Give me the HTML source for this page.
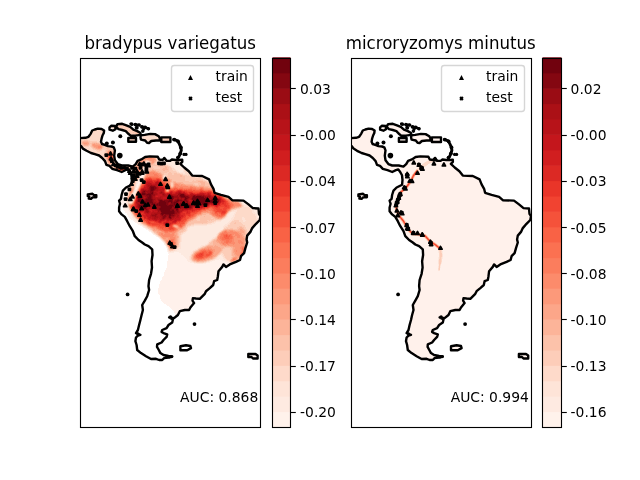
<!DOCTYPE html>
<html lang="en">
<head>
<meta charset="utf-8">
<title>Species distribution modeling</title>
<style>
html,body{margin:0;padding:0;background:#fff;}
body{width:640px;height:480px;overflow:hidden;}
svg{display:block;}
text{font-family:"DejaVu Sans","Liberation Sans",sans-serif;fill:#000;}
.t10{font-size:13.889px;}
.t12{font-size:16.667px;}
</style>
</head>
<body>
<svg width="640" height="480" viewBox="0 0 640 480">
<rect x="0" y="0" width="640" height="480" fill="#ffffff"/>
<defs>
<path id="tri" d="M0 -1.389 L-1.389 1.389 L1.389 1.389 Z" fill="#000" stroke="#000" stroke-width="1.389" stroke-linejoin="miter"/>
<path id="trm" d="M0 -1.5 L-1.6 1.45 L1.6 1.45 Z" fill="#000" stroke="#000" stroke-width="1.7" stroke-linejoin="round"/>
<rect id="crm" x="-1.9" y="-1.9" width="3.8" height="3.8" rx="1" fill="#000"/>
<path id="crs" d="M-1.389 1.389 L1.389 -1.389 M-1.389 -1.389 L1.389 1.389" fill="none" stroke="#000" stroke-width="2.083" stroke-linecap="butt"/>
<clipPath id="clip0"><rect x="80.5" y="58.5" width="180" height="369"/></clipPath>
<clipPath id="clip1"><rect x="351.5" y="58.5" width="180" height="369"/></clipPath>
</defs>
<g id="panel0">
<g clip-path="url(#clip0)">
<defs><clipPath id="land0"><path d="M79 138.2 85.4 137.8 88.5 136.8 90.8 133.6 92.2 130.5 94.8 129.5 97.9 128.6 101.6 129 104.1 130.5 103.8 133 102.5 135.5 101.6 138.6 101 141.8 102 144 104.8 144.9 107.9 146.1 111.6 146.5 113.8 147.3 114.9 150.4 114.2 155.6 114.9 160.3 117.8 164.1 121.7 165.5 128.2 165.5 132.8 166.6 135.7 164.1 137.6 160.8 141.3 159.4 145.1 157 149.8 156.4 157.8 156.7 159.2 159.5 162.6 160 164.4 157.9 166.8 160.9 170.1 160.9 171.9 159.5 175.7 160 179.4 160 182.2 159.6 182.3 161.8 180.3 163.8 184.2 167.5 188.8 171.2 192.2 175.6 202.2 176 209.1 179.4 211 184.4 213.5 188.8 214.5 192.8 221 194.8 228.5 196.9 232.2 200.2 243.5 200.6 248.5 204.4 252.9 208.1 258.5 208.5 259 213.8 260.4 216.2 259.8 220 256 223.8 252.2 228.1 250.4 231.9 247.2 235.6 246.6 239.4 247.2 242.5 245.4 248.1 244.1 253.1 241 256.2 240 260 236 261.9 229.8 264.4 226 266.9 223.5 264.4 222.2 266.9 218.5 271.2 217.9 276.2 217.2 280 214.1 281.2 213.2 285 209.8 288.1 206 291.2 204.8 293.8 199.8 298.8 196 298.5 192.9 298.1 192.5 300.6 194.1 303.1 190.4 307.5 189.1 310 184.8 310 179.8 311.2 177.9 315 174.1 318.1 169.1 317.5 172.9 319.4 172.2 322.5 168.5 325 166.6 328.1 162.2 330 161.6 331.9 163.5 333.1 167.2 334.4 166.6 336.9 163.5 340 161.6 342.5 157.2 344.4 157 346.9 158.8 350 160.4 353.1 163.5 355 168.5 356 172.2 356.5 168.5 357.5 164.1 358.1 162.2 360 159.1 360 156 358.8 151 359 146 356.2 141 353.1 137.2 350 136.6 345 135.4 341.2 136 337.5 137.9 335.6 140.4 334.8 136 333.1 137.9 330 139.1 325 140.4 320 141.6 315 142.9 310 142.2 305 144.8 300.6 147.2 296.2 149.1 290 148.5 286.2 149.1 280 151 273.8 152 267.5 151.6 261.2 152.5 255 152.2 249.4 148.5 246.2 144.8 244.5 142.2 242.5 138.5 240 134.8 236.2 132.9 231.2 129.8 226.2 127.2 221.2 124.8 216.9 121.6 214.4 119.1 211.2 119.1 207.5 120 203.8 119.1 200.6 121 198.8 121.6 195 122.9 190.6 126 187.5 131.6 184.7 131.9 180 131.4 175.3 129.7 172 127.8 169.4 125.3 170.2 121.7 172 117 170.2 112.2 168.8 109.5 165.9 106.4 164.9 105 161.1 102.2 158 99.1 155.5 94.8 154.2 91 153 86.6 150.8 82.9 148.6 81 146.1 79 145Z M116.1 126.9 117.5 124.1 122.2 123.8 126.4 125.3 130.2 126.9 133.4 129.7 137.2 131.1 140.5 133 140.5 134.9 135.3 135.6 130.6 135.6 128 133.5 125.8 131.1 122.2 130 118.5 129.1Z M109.5 127.4 111.4 125.7 115.2 126 115.5 129.2 112.8 130.7 109.5 129.7Z M128.3 138 136 138 136 141.8 128.3 141.8Z M140.9 135.3 144.7 134.9 150.3 133.9 155 134.1 158.8 136.3 159.9 138.5 159.7 140.5 156 140.5 151.3 141 149 143 147.1 142.8 145.2 140.5 141 139.6 140.5 137.5Z M161.3 137.4 170.4 137.4 170.4 142 161.3 142Z M87.8 194.4 92.5 193.8 94 195.1 96.3 195.3 96.3 197.2 92.6 197.4 91 198.9 88.8 198.6 89.3 196.7 87.8 196.2Z M180.4 346.2 186 345.2 190.4 346 191 348.1 187.2 350.2 180.4 350.2Z M248.3 354 255.5 354 257.6 355.5 257.6 358.5 253 358.5 251.5 357 248.3 357Z"/></clipPath>
<filter id="heat0" filterUnits="userSpaceOnUse" x="70" y="110" width="200" height="270" color-interpolation-filters="sRGB">
<feGaussianBlur in="SourceGraphic" stdDeviation="1.2" result="b"/>
<feTurbulence type="fractalNoise" baseFrequency="0.13" numOctaves="3" seed="7" result="n"/>
<feColorMatrix in="n" type="matrix" values="1 0 0 0 0 1 0 0 0 0 1 0 0 0 0 0 0 0 0 1" result="n2"/>
<feComposite in="b" in2="n2" operator="arithmetic" k1="0.55" k2="0.725" k3="0" k4="0" result="c"/>
<feComponentTransfer><feFuncR type="discrete" tableValues="1.000 1.000 0.996 0.996 0.996 0.992 0.988 0.988 0.988 0.988 0.988 0.984 0.984 0.976 0.961 0.945 0.914 0.863 0.820 0.769 0.718 0.671 0.604 0.518 0.443"/><feFuncG type="discrete" tableValues="1.000 0.949 0.918 0.894 0.855 0.804 0.761 0.706 0.651 0.600 0.545 0.490 0.443 0.384 0.322 0.263 0.208 0.161 0.118 0.086 0.075 0.063 0.047 0.027 0.008"/><feFuncB type="discrete" tableValues="1.000 0.922 0.882 0.847 0.792 0.725 0.667 0.600 0.537 0.478 0.420 0.365 0.318 0.271 0.227 0.192 0.161 0.141 0.122 0.110 0.098 0.086 0.078 0.067 0.055"/></feComponentTransfer>
</filter>
</defs>
<g clip-path="url(#land0)"><g filter="url(#heat0)">
<rect x="70" y="110" width="200" height="270" fill="#0f0f0f"/>
<path d="M78 128 106 126 106 146 116 147 117 166 136 168 136 176 104 170 95 157 78 150Z" fill="#2e2e2e"/>
<ellipse cx="97" cy="146" rx="6" ry="3" fill="#6b6b6b" transform="rotate(20 97 146)"/>
<ellipse cx="86" cy="143" rx="4" ry="3" fill="#616161"/>
<path d="M106 146 116 147 117 160 120 166 134 166 134 175 118 172 108 166 104 156Z" fill="#424242"/>
<ellipse cx="110.5" cy="157" rx="2.5" ry="6" fill="#949494" transform="rotate(-12 110.5 157)"/>
<ellipse cx="124" cy="169" rx="8" ry="2.5" fill="#a8a8a8" transform="rotate(10 124 169)"/>
<ellipse cx="125" cy="129" rx="17" ry="4.5" fill="#383838" transform="rotate(18 125 129)"/>
<ellipse cx="151" cy="138" rx="10" ry="4" fill="#2e2e2e"/>
<ellipse cx="166" cy="139.5" rx="5" ry="2.5" fill="#424242"/>
<ellipse cx="132" cy="140" rx="5" ry="2" fill="#383838"/>
<path d="M128.5 189.5 129 167 139 154.5 161.5 152 181.5 154.5 189 167 206.5 174.5 216.5 189.5 234 195.8 256.5 202 264 212 260.2 227 254 239.5 249 252 241.5 259.5 229 262 216.5 259.5 204 262 189 262 185.2 257 179 252 166.5 252 161.5 244.5 155.2 238.2 146.5 233.2 139 227 132.8 218.2 129 209.5 126.5 199.5Z" fill="#1a1a1a"/>
<path d="M129 189.5 135.2 177 141.5 167 150.2 163.2 161.5 163.2 171.5 167 179 173.2 189 175.8 200.2 178.2 209 182 215.2 188.2 224 193.2 234 198.2 240 202 243 205 238 209 232 211 226 213 224 218 219 220 214 222 211.5 223.2 204 224.5 194 224.5 187.8 227 185.2 232 177.8 235.8 177.8 247 174 250.8 166.5 250.8 162.8 244.5 162.8 237 154 232 145.2 227 137.8 219.5 131.5 212 127.8 202Z" fill="#424242"/>
<path d="M134 167 139 157 154 155 157.8 160.8 151.5 164.5 147.8 163.2 144 169.5 137.8 179.5 132.8 182Z" fill="#616161"/>
<path d="M146 172 153 171 160 173 166 177 172 181 180 184 190 185.5 200 186.5 210 188 216 190.5 224 196 232 200 240 203 243 206 236 208 230 210 226 215 223 219 218 220 214 217 210 213 204 213 198 216 193 219.5 188 222 183 228 177 232.5 168 234 160 231.5 151 227.5 142 223 134 216 129 208 127 199 130 191 137 184Z" fill="#6b6b6b"/>
<ellipse cx="245" cy="222" rx="12" ry="16" fill="#2e2e2e"/>
<ellipse cx="234" cy="241" rx="14" ry="21" fill="#383838" transform="rotate(10 234 241)"/>
<ellipse cx="239" cy="244" rx="7.5" ry="17" fill="#4c4c4c" transform="rotate(10 239 244)"/>
<ellipse cx="216" cy="246" rx="14" ry="7" fill="#4c4c4c" transform="rotate(-35 216 246)"/>
<ellipse cx="229" cy="238" rx="12" ry="8.5" fill="#6b6b6b"/>
<ellipse cx="228" cy="238.5" rx="7" ry="4.5" fill="#808080"/>
<ellipse cx="219.5" cy="212.5" rx="4.5" ry="6" fill="#949494"/>
<ellipse cx="239" cy="246" rx="4.5" ry="11" fill="#616161" transform="rotate(12 239 246)"/>
<path d="M155 224 179 226 181 236 179 247 170 252 160 245 152 233Z" fill="#424242"/>
<path d="M156 224 176 226 178 235 177 243 174 249 169 250 163 243 157 236 152 230Z" fill="#616161"/>
<ellipse cx="171.5" cy="244" rx="4" ry="4.5" fill="#808080"/>
<ellipse cx="206" cy="254" rx="16" ry="7.5" fill="#575757" transform="rotate(-18 206 254)"/>
<path d="M146 178 152 177 158 178 163 180.5 170 185.5 176 187.5 185 188.5 195 189.5 205 190 212 190.5 217 193 224 198 230 203 236 206 231 207.5 227 210.5 224.5 215 221.5 217.5 217.5 216 214.5 211.5 209 209.5 203 210.5 197 213.5 192.5 217 188 220 184 225 180 229 174 231 166 231.5 159 229 150 225.5 142 221 135 214 130 207 128.5 199 132 191 139 185Z" fill="#949494"/>
<path d="M149 179 155 180.5 161 183 168 190.5 174 191 180 190 187 191 194 193 203 192.5 211 192 216.5 195 222 198 227 202 223 205 216.5 206.5 209 207.5 203 208.5 196.5 211 190 213.5 184 216.5 179.5 221.5 173 225 166.5 225.5 160 223.5 151.5 220 144 218.2 137.8 212 132 209 130.5 200 134 192.5 141.5 187Z" fill="#bdbdbd"/>
<path d="M137 194 143 189 150 184 156 186 160 190 166 194 172 195 180 194 190 194 200 195 210 194.5 216 197 220.5 200.5 216 203.5 210 204.5 202 205.5 195 207.5 188 209.5 181 212 175.5 216.5 170 219.5 163 220 156 217.5 148 214 141 210 136 204Z" fill="#e6e6e6"/>
<ellipse cx="205" cy="200" rx="12" ry="4" fill="#fafafa"/>
<ellipse cx="142" cy="203" rx="6" ry="6" fill="#fafafa"/>
<ellipse cx="168" cy="207" rx="11" ry="7.5" fill="#fafafa"/>
<ellipse cx="203" cy="255" rx="10" ry="4.6" fill="#8a8a8a" transform="rotate(-18 203 255)"/>
<ellipse cx="200" cy="256" rx="5" ry="2.3" fill="#a8a8a8" transform="rotate(-18 200 256)"/>
<ellipse cx="171.5" cy="244.5" rx="2" ry="2.4" fill="#a8a8a8"/>
<ellipse cx="243" cy="252" rx="1.5" ry="5.5" fill="#949494" transform="rotate(20 243 252)"/>
<ellipse cx="234" cy="260" rx="4" ry="1.8" fill="#757575" transform="rotate(-30 234 260)"/>
<ellipse cx="164.5" cy="177.5" rx="2" ry="2.3" fill="#1a1a1a"/>
<ellipse cx="172" cy="185" rx="1.4" ry="3.5" fill="#1a1a1a"/>
<ellipse cx="167.3" cy="190.5" rx="1.8" ry="1.6" fill="#1a1a1a"/>
<path d="M150.6 162 146.4 160.1 127.9 203.1 132.1 205Z" fill="#0f0f0f"/>
<path d="M122 205 123 210 126.5 214 129.5 218.5 134 221.5 140 224.5 146 228 152.2 232 157 235 161.6 238.4 165 242.5 168.1 247 168.6 253.5 166.5 265.8 163.2 276.2 158.9 283.2 158 292 160.6 300.8 167.6 306 172 309 175 316 180 320 200 325 200 370 120 370 110 300 140 255 125 225 112 205Z" fill="#050505"/>
<ellipse cx="176" cy="226.5" rx="4" ry="1.1" fill="#1a1a1a" transform="rotate(25 176 226.5)"/>
<ellipse cx="194" cy="173" rx="11" ry="5.5" fill="#2e2e2e" transform="rotate(18 194 173)"/>
</g></g>
<path d="M79 138.2 85.4 137.8 88.5 136.8 90.8 133.6 92.2 130.5 94.8 129.5 97.9 128.6 101.6 129 104.1 130.5 103.8 133 102.5 135.5 101.6 138.6 101 141.8 102 144 104.8 144.9 107.9 146.1 111.6 146.5 113.8 147.3 114.9 150.4 114.2 155.6 114.9 160.3 117.8 164.1 121.7 165.5 128.2 165.5 132.8 166.6 135.7 164.1 137.6 160.8 141.3 159.4 145.1 157 149.8 156.4 157.8 156.7 159.2 159.5 162.6 160 164.4 157.9 166.8 160.9 170.1 160.9 171.9 159.5 175.7 160 179.4 160 182.2 159.6 182.3 161.8 180.3 163.8 184.2 167.5 188.8 171.2 192.2 175.6 202.2 176 209.1 179.4 211 184.4 213.5 188.8 214.5 192.8 221 194.8 228.5 196.9 232.2 200.2 243.5 200.6 248.5 204.4 252.9 208.1 258.5 208.5 259 213.8 260.4 216.2 259.8 220 256 223.8 252.2 228.1 250.4 231.9 247.2 235.6 246.6 239.4 247.2 242.5 245.4 248.1 244.1 253.1 241 256.2 240 260 236 261.9 229.8 264.4 226 266.9 223.5 264.4 222.2 266.9 218.5 271.2 217.9 276.2 217.2 280 214.1 281.2 213.2 285 209.8 288.1 206 291.2 204.8 293.8 199.8 298.8 196 298.5 192.9 298.1 192.5 300.6 194.1 303.1 190.4 307.5 189.1 310 184.8 310 179.8 311.2 177.9 315 174.1 318.1 169.1 317.5 172.9 319.4 172.2 322.5 168.5 325 166.6 328.1 162.2 330 161.6 331.9 163.5 333.1 167.2 334.4 166.6 336.9 163.5 340 161.6 342.5 157.2 344.4 157 346.9 158.8 350 160.4 353.1 163.5 355 168.5 356 172.2 356.5 168.5 357.5 164.1 358.1 162.2 360 159.1 360 156 358.8 151 359 146 356.2 141 353.1 137.2 350 136.6 345 135.4 341.2 136 337.5 137.9 335.6 140.4 334.8 136 333.1 137.9 330 139.1 325 140.4 320 141.6 315 142.9 310 142.2 305 144.8 300.6 147.2 296.2 149.1 290 148.5 286.2 149.1 280 151 273.8 152 267.5 151.6 261.2 152.5 255 152.2 249.4 148.5 246.2 144.8 244.5 142.2 242.5 138.5 240 134.8 236.2 132.9 231.2 129.8 226.2 127.2 221.2 124.8 216.9 121.6 214.4 119.1 211.2 119.1 207.5 120 203.8 119.1 200.6 121 198.8 121.6 195 122.9 190.6 126 187.5 131.6 184.7 131.9 180 131.4 175.3 129.7 172 127.8 169.4 125.3 170.2 121.7 172 117 170.2 112.2 168.8 109.5 165.9 106.4 164.9 105 161.1 102.2 158 99.1 155.5 94.8 154.2 91 153 86.6 150.8 82.9 148.6 81 146.1 79 145Z M116.1 126.9 117.5 124.1 122.2 123.8 126.4 125.3 130.2 126.9 133.4 129.7 137.2 131.1 140.5 133 140.5 134.9 135.3 135.6 130.6 135.6 128 133.5 125.8 131.1 122.2 130 118.5 129.1Z M109.5 127.4 111.4 125.7 115.2 126 115.5 129.2 112.8 130.7 109.5 129.7Z M128.3 138 136 138 136 141.8 128.3 141.8Z M140.9 135.3 144.7 134.9 150.3 133.9 155 134.1 158.8 136.3 159.9 138.5 159.7 140.5 156 140.5 151.3 141 149 143 147.1 142.8 145.2 140.5 141 139.6 140.5 137.5Z M161.3 137.4 170.4 137.4 170.4 142 161.3 142Z M87.8 194.4 92.5 193.8 94 195.1 96.3 195.3 96.3 197.2 92.6 197.4 91 198.9 88.8 198.6 89.3 196.7 87.8 196.2Z M180.4 346.2 186 345.2 190.4 346 191 348.1 187.2 350.2 180.4 350.2Z M248.3 354 255.5 354 257.6 355.5 257.6 358.5 253 358.5 251.5 357 248.3 357Z" fill="none" stroke="#000" stroke-width="2.4" stroke-linejoin="round"/>
<circle cx="127.6" cy="294.4" r="1.9" fill="#000"/>
<circle cx="194.5" cy="324.1" r="1.9" fill="#000"/>
<circle cx="119.8" cy="155.6" r="2.8" fill="#000"/>
<circle cx="112.9" cy="142.4" r="2" fill="#000"/>
<circle cx="106.8" cy="143.5" r="2" fill="#000"/>
<circle cx="120.3" cy="136.3" r="2" fill="#000"/>
<circle cx="184" cy="154.4" r="1.6" fill="#000"/>
<circle cx="186" cy="154.4" r="1.6" fill="#000"/>
<circle cx="170.5" cy="316.9" r="1.7" fill="#000"/>
<circle cx="137.9" cy="333.8" r="1.6" fill="#000"/>
<circle cx="169.5" cy="356.8" r="1.7" fill="#000"/>
<circle cx="171.5" cy="356.6" r="1.6" fill="#000"/>
<circle cx="174.2" cy="139.6" r="1.9" fill="#000"/>
<circle cx="178" cy="141.3" r="1.9" fill="#000"/>
<circle cx="180.9" cy="147.5" r="1.9" fill="#000"/>
<circle cx="180.3" cy="153.6" r="1.9" fill="#000"/>
<circle cx="178" cy="157.5" r="1.8" fill="#000"/>
<circle cx="131.6" cy="124.1" r="1.8" fill="#000"/>
<circle cx="135.3" cy="124.6" r="1.8" fill="#000"/>
<circle cx="139.1" cy="125" r="1.8" fill="#000"/>
<circle cx="141.9" cy="126.9" r="1.8" fill="#000"/>
<circle cx="145.2" cy="127.4" r="1.8" fill="#000"/>
<circle cx="148.4" cy="128.8" r="1.8" fill="#000"/>
<circle cx="142.8" cy="131.1" r="1.8" fill="#000"/>
<circle cx="136.7" cy="127.8" r="2" fill="#000"/>
<circle cx="143.6" cy="129" r="1.6" fill="#000"/>
<path d="M135.3 124.6 139.1 125" fill="none" stroke="#000" stroke-width="2.6" stroke-linecap="round" stroke-linejoin="round"/>
<path d="M141.9 126.9 145.2 127.4 148.4 128.8" fill="none" stroke="#000" stroke-width="2.6" stroke-linecap="round" stroke-linejoin="round"/>
<path d="M130.5 123.8 132.5 124.6" fill="none" stroke="#000" stroke-width="2.4" stroke-linecap="round" stroke-linejoin="round"/>
<path d="M173.8 139.4 177.6 140.8 179.4 144.1 180.8 147.3 181.3 150.2 180.3 153.4 178.9 156.7 177.6 157.7" fill="none" stroke="#000" stroke-width="2.9" stroke-linecap="round" stroke-linejoin="round"/>
<use href="#trm" x="139.4" y="214.7"/><use href="#trm" x="140.6" y="219.7"/><use href="#trm" x="133.1" y="209.1"/><use href="#trm" x="169.8" y="242.6"/><use href="#trm" x="172.4" y="246.1"/><use href="#trm" x="110.5" y="153.4"/><use href="#trm" x="111" y="158.4"/><use href="#trm" x="113.5" y="163.9"/><use href="#trm" x="118.1" y="166.5"/><use href="#trm" x="124.5" y="167.3"/><use href="#trm" x="129.5" y="170.7"/><use href="#trm" x="133.8" y="170.7"/><use href="#trm" x="137.1" y="171.5"/><use href="#trm" x="139.7" y="163.9"/><use href="#trm" x="143.9" y="163.5"/><use href="#trm" x="148.5" y="165.2"/><use href="#trm" x="146.8" y="171.5"/><use href="#trm" x="142.2" y="171.5"/><use href="#trm" x="137.1" y="175.7"/><use href="#trm" x="132.9" y="177.4"/><use href="#trm" x="160.5" y="183.8"/><use href="#trm" x="138.3" y="193.5"/><use href="#trm" x="140" y="195.6"/><use href="#trm" x="132.4" y="196.5"/><use href="#trm" x="130.3" y="199"/><use href="#trm" x="142.5" y="201.5"/><use href="#trm" x="125.2" y="205.3"/><use href="#trm" x="145.4" y="204.9"/><use href="#trm" x="148" y="204.5"/><use href="#trm" x="154.3" y="206.6"/><use href="#trm" x="133.6" y="208.7"/><use href="#trm" x="141.6" y="208.3"/><use href="#trm" x="130.3" y="172.8"/><use href="#trm" x="135.3" y="178.7"/><use href="#trm" x="142.1" y="172.8"/><use href="#trm" x="131.5" y="183.8"/><use href="#trm" x="165.6" y="179"/><use href="#trm" x="167.3" y="185.5"/><use href="#trm" x="167.8" y="186.9"/><use href="#trm" x="169.4" y="196.7"/><use href="#trm" x="183.8" y="203.4"/><use href="#trm" x="177.4" y="205.5"/><use href="#trm" x="186.7" y="205.5"/><use href="#trm" x="193.5" y="203"/><use href="#trm" x="177.3" y="205.7"/><use href="#trm" x="183.4" y="203.6"/><use href="#trm" x="186.5" y="205.7"/><use href="#trm" x="193.6" y="202.8"/><use href="#trm" x="207.6" y="199.8"/><use href="#trm" x="215.2" y="197.7"/><use href="#trm" x="215.2" y="200.8"/><use href="#trm" x="197.5" y="200.8"/><use href="#trm" x="199" y="203.3"/><use href="#trm" x="197.5" y="205.8"/><use href="#trm" x="196.5" y="203.3"/>
<use href="#crm" x="136.2" y="211.2"/><use href="#crm" x="167.3" y="225.2"/><use href="#crm" x="171" y="244"/><use href="#crm" x="174.6" y="247.2"/><use href="#crm" x="106.3" y="155.2"/><use href="#crm" x="111.8" y="161.1"/><use href="#crm" x="115.6" y="165.3"/><use href="#crm" x="121.1" y="167.8"/><use href="#crm" x="127" y="168.7"/><use href="#crm" x="132.1" y="167.8"/><use href="#crm" x="135.4" y="168.7"/><use href="#crm" x="142.2" y="164.5"/><use href="#crm" x="146" y="165.3"/><use href="#crm" x="146.4" y="168.7"/><use href="#crm" x="140.5" y="167.8"/><use href="#crm" x="139.7" y="173.8"/><use href="#crm" x="133.8" y="175.4"/><use href="#crm" x="141.6" y="180.1"/><use href="#crm" x="143.8" y="182.2"/><use href="#crm" x="126" y="194.1"/><use href="#crm" x="125.6" y="199.1"/><use href="#crm" x="129.4" y="189.4"/><use href="#crm" x="133.6" y="175.1"/><use href="#crm" x="137.8" y="173.4"/><use href="#crm" x="146.3" y="171.3"/><use href="#crm" x="132.8" y="181"/><use href="#crm" x="205.4" y="205.2"/><use href="#crm" x="215.2" y="203"/><use href="#crm" x="159" y="163.3"/><use href="#crm" x="161.5" y="163.6"/><use href="#crm" x="164" y="163.3"/><use href="#crm" x="177.2" y="163.1"/><use href="#crm" x="148.5" y="164.4"/>
</g>
<rect x="80.5" y="58.5" width="180" height="369" fill="none" stroke="#000" stroke-width="1.111" stroke-linejoin="miter"/>
<text class="t10" x="258.28" y="402.49" text-anchor="end">AUC: 0.868</text>
<text class="t12" transform="translate(170.18 48.87) scale(1 1.11)" text-anchor="middle">bradypus variegatus</text>
<rect x="171.5" y="65.5" width="82" height="46" rx="2.778" ry="2.778" fill="#fff" fill-opacity="0.8" stroke="#ccc" stroke-opacity="0.8" stroke-width="1.389"/>
<use href="#tri" x="190.5" y="78"/>
<use href="#crs" x="190.5" y="98.5"/>
<text class="t10" x="215.54" y="81">train</text>
<text class="t10" x="215.54" y="102">test</text>
<rect x="272.5" y="411.5" width="18" height="16" fill="#fff2eb"/>
<rect x="272.5" y="396.1" width="18" height="16" fill="#feeae1"/>
<rect x="272.5" y="380.7" width="18" height="16" fill="#fee4d8"/>
<rect x="272.5" y="365.3" width="18" height="16" fill="#fedaca"/>
<rect x="272.5" y="349.9" width="18" height="16" fill="#fdcdb9"/>
<rect x="272.5" y="334.5" width="18" height="16" fill="#fcc2aa"/>
<rect x="272.5" y="319.1" width="18" height="16" fill="#fcb499"/>
<rect x="272.5" y="303.7" width="18" height="16" fill="#fca689"/>
<rect x="272.5" y="288.3" width="18" height="16" fill="#fc997a"/>
<rect x="272.5" y="272.9" width="18" height="16" fill="#fc8b6b"/>
<rect x="272.5" y="257.5" width="18" height="16" fill="#fb7d5d"/>
<rect x="272.5" y="242.1" width="18" height="16" fill="#fb7151"/>
<rect x="272.5" y="226.7" width="18" height="16" fill="#f96245"/>
<rect x="272.5" y="211.3" width="18" height="16" fill="#f5523a"/>
<rect x="272.5" y="195.9" width="18" height="16" fill="#f14331"/>
<rect x="272.5" y="180.5" width="18" height="16" fill="#e93529"/>
<rect x="272.5" y="165.1" width="18" height="16" fill="#dc2924"/>
<rect x="272.5" y="149.7" width="18" height="16" fill="#d11e1f"/>
<rect x="272.5" y="134.3" width="18" height="16" fill="#c4161c"/>
<rect x="272.5" y="118.9" width="18" height="16" fill="#b71319"/>
<rect x="272.5" y="103.5" width="18" height="16" fill="#ab1016"/>
<rect x="272.5" y="88.1" width="18" height="16" fill="#9a0c14"/>
<rect x="272.5" y="72.7" width="18" height="16" fill="#840711"/>
<rect x="272.5" y="57.3" width="18" height="16" fill="#71020e"/>
<rect x="272.5" y="58.5" width="18" height="369" fill="none" stroke="#000" stroke-width="1.111"/>
<path d="M290.5 412.5 h5.3" stroke="#000" stroke-width="1.111" fill="none"/><text class="t10" x="300.06" y="417">-0.20</text>
<path d="M290.5 366.5 h5.3" stroke="#000" stroke-width="1.111" fill="none"/><text class="t10" x="300.06" y="371">-0.17</text>
<path d="M290.5 319.5 h5.3" stroke="#000" stroke-width="1.111" fill="none"/><text class="t10" x="300.06" y="325">-0.14</text>
<path d="M290.5 273.5 h5.3" stroke="#000" stroke-width="1.111" fill="none"/><text class="t10" x="300.06" y="279">-0.10</text>
<path d="M290.5 227.5 h5.3" stroke="#000" stroke-width="1.111" fill="none"/><text class="t10" x="300.06" y="233">-0.07</text>
<path d="M290.5 181.5 h5.3" stroke="#000" stroke-width="1.111" fill="none"/><text class="t10" x="300.06" y="186">-0.04</text>
<path d="M290.5 135.5 h5.3" stroke="#000" stroke-width="1.111" fill="none"/><text class="t10" x="300.06" y="140">-0.00</text>
<path d="M290.5 88.5 h5.3" stroke="#000" stroke-width="1.111" fill="none"/><text class="t10" x="300.06" y="94">0.03</text>
</g>
<g id="panel1">
<g clip-path="url(#clip1)">
<defs><clipPath id="land1"><path d="M349.6 138.2 356 137.8 359.1 136.8 361.3 133.6 362.8 130.5 365.3 129.5 368.5 128.6 372.1 129 374.6 130.5 374.3 133 373.1 135.5 372.1 138.6 371.6 141.8 372.6 144 375.3 144.9 378.5 146.1 382.1 146.5 384.3 147.3 385.5 150.4 384.8 155.6 385.5 160.3 388.4 164.1 392.2 165.5 398.8 165.5 403.4 166.6 406.2 164.1 408.1 160.8 411.9 159.4 415.6 157 420.3 156.4 428.4 156.7 429.8 159.5 433.1 160 435 157.9 437.3 160.9 440.6 160.9 442.5 159.5 446.2 160 450 160 452.8 159.6 452.9 161.8 450.9 163.8 454.7 167.5 459.4 171.2 462.8 175.6 472.8 176 479.6 179.4 481.6 184.4 484.1 188.8 485.1 192.8 491.6 194.8 499.1 196.9 502.8 200.2 514 200.6 519 204.4 523.5 208.1 529 208.5 529.5 213.8 531 216.2 530.3 220 526.5 223.8 522.8 228.1 521 231.9 517.8 235.6 517.1 239.4 517.8 242.5 516 248.1 514.6 253.1 511.6 256.2 510.6 260 506.6 261.9 500.3 264.4 496.6 266.9 494.1 264.4 492.8 266.9 489.1 271.2 488.5 276.2 487.8 280 484.6 281.2 483.8 285 480.3 288.1 476.6 291.2 475.3 293.8 470.3 298.8 466.6 298.5 463.5 298.1 463.1 300.6 464.6 303.1 461 307.5 459.6 310 455.3 310 450.3 311.2 448.5 315 444.6 318.1 439.6 317.5 443.5 319.4 442.8 322.5 439.1 325 437.1 328.1 432.8 330 432.1 331.9 434.1 333.1 437.8 334.4 437.1 336.9 434.1 340 432.1 342.5 427.8 344.4 427.6 346.9 429.3 350 431 353.1 434.1 355 439.1 356 442.8 356.5 439.1 357.5 434.6 358.1 432.8 360 429.6 360 426.6 358.8 421.6 359 416.6 356.2 411.6 353.1 407.8 350 407.1 345 406 341.2 406.6 337.5 408.5 335.6 411 334.8 406.6 333.1 408.5 330 409.6 325 411 320 412.1 315 413.5 310 412.8 305 415.3 300.6 417.8 296.2 419.6 290 419.1 286.2 419.6 280 421.6 273.8 422.6 267.5 422.1 261.2 423.1 255 422.8 249.4 419.1 246.2 415.3 244.5 412.8 242.5 409.1 240 405.3 236.2 403.5 231.2 400.3 226.2 397.8 221.2 395.3 216.9 392.1 214.4 389.6 211.2 389.6 207.5 390.6 203.8 389.6 200.6 391.6 198.8 392.1 195 393.5 190.6 396.6 187.5 402.1 184.7 402.5 180 402 175.3 400.2 172 398.3 169.4 395.9 170.2 392.2 172 387.5 170.2 382.8 168.8 380 165.9 377 164.9 375.6 161.1 372.8 158 369.6 155.5 365.3 154.2 361.6 153 357.1 150.8 353.5 148.6 351.6 146.1 349.6 145Z M386.6 126.9 388.1 124.1 392.8 123.8 397 125.3 400.8 126.9 404 129.7 407.8 131.1 411.1 133 411.1 134.9 405.9 135.6 401.1 135.6 398.6 133.5 396.4 131.1 392.8 130 389 129.1Z M380.1 127.4 382 125.7 385.8 126 386 129.2 383.4 130.7 380.1 129.7Z M398.9 138 406.6 138 406.6 141.8 398.9 141.8Z M411.5 135.3 415.2 134.9 420.9 133.9 425.6 134.1 429.3 136.3 430.5 138.5 430.2 140.5 426.6 140.5 421.9 141 419.6 143 417.6 142.8 415.8 140.5 411.6 139.6 411.1 137.5Z M431.9 137.4 441 137.4 441 142 431.9 142Z M358.4 194.4 363.1 193.8 364.6 195.1 366.9 195.3 366.9 197.2 363.1 197.4 361.6 198.9 359.4 198.6 359.9 196.7 358.4 196.2Z M451 346.2 456.6 345.2 461 346 461.6 348.1 457.8 350.2 451 350.2Z M518.9 354 526 354 528.2 355.5 528.2 358.5 523.5 358.5 522 357 518.9 357Z"/></clipPath>
<filter id="heat1" filterUnits="userSpaceOnUse" x="340.6" y="110" width="200" height="270" color-interpolation-filters="sRGB">
<feGaussianBlur in="SourceGraphic" stdDeviation="0.7" result="b"/>
<feComponentTransfer><feFuncR type="discrete" tableValues="1.000 1.000 0.996 0.996 0.996 0.992 0.988 0.988 0.988 0.988 0.988 0.984 0.984 0.976 0.961 0.945 0.914 0.863 0.820 0.769 0.718 0.671 0.604 0.518 0.443"/><feFuncG type="discrete" tableValues="1.000 0.949 0.918 0.894 0.855 0.804 0.761 0.706 0.651 0.600 0.545 0.490 0.443 0.384 0.322 0.263 0.208 0.161 0.118 0.086 0.075 0.063 0.047 0.027 0.008"/><feFuncB type="discrete" tableValues="1.000 0.922 0.882 0.847 0.792 0.725 0.667 0.600 0.537 0.478 0.420 0.365 0.318 0.271 0.227 0.192 0.161 0.141 0.122 0.110 0.098 0.086 0.078 0.067 0.055"/></feComponentTransfer>
</filter>
</defs>
<g clip-path="url(#land1)"><g filter="url(#heat1)">
<rect x="340.6" y="110" width="200" height="270" fill="#0f0f0f"/>
<path d="M434 159.5 427 163 421 167.5 417 171 417 171 413.5 175.5 410.9 181 406.2 187.5 401 192 398.8 198 396.6 204 396.3 208.8 398.8 215.3 403.4 221 408.1 229.4 412.8 234 418.4 234.4 425 235.8 429.7 241 435.3 244.7 440 248.4 440.9 255 440 262.5" fill="none" stroke="#2e2e2e" stroke-width="3.6" stroke-linecap="round" stroke-linejoin="round"/>
<path d="M417 171 413.5 175.5 410.9 181 406.2 187.5 401 192 398.8 198 396.6 204 396.3 208.8 398.8 215.3 403.4 221 408.1 229.4 412.8 234 418.4 234.4 425 235.8 429.7 241 435.3 244.7 440 248.4" fill="none" stroke="#575757" stroke-width="2.6" stroke-linecap="round" stroke-linejoin="round"/>
<path d="M440 248.4 440.9 255 440 262.5 439 270" fill="none" stroke="#383838" stroke-width="1.8" stroke-linecap="round" stroke-linejoin="round"/>
<path d="M417 171 413.5 175.5 410.9 181 406.2 187.5 401 192 398.8 198 396.6 204 396.3 208.8 398.8 215.3 403.4 221 408.1 229.4 412.8 234 418.4 234.4 425 235.8 429.7 241 435.3 244.7 440 248.4" fill="none" stroke="#9e9e9e" stroke-width="1.3" stroke-linecap="round" stroke-linejoin="round"/>
</g></g>
<path d="M349.6 138.2 356 137.8 359.1 136.8 361.3 133.6 362.8 130.5 365.3 129.5 368.5 128.6 372.1 129 374.6 130.5 374.3 133 373.1 135.5 372.1 138.6 371.6 141.8 372.6 144 375.3 144.9 378.5 146.1 382.1 146.5 384.3 147.3 385.5 150.4 384.8 155.6 385.5 160.3 388.4 164.1 392.2 165.5 398.8 165.5 403.4 166.6 406.2 164.1 408.1 160.8 411.9 159.4 415.6 157 420.3 156.4 428.4 156.7 429.8 159.5 433.1 160 435 157.9 437.3 160.9 440.6 160.9 442.5 159.5 446.2 160 450 160 452.8 159.6 452.9 161.8 450.9 163.8 454.7 167.5 459.4 171.2 462.8 175.6 472.8 176 479.6 179.4 481.6 184.4 484.1 188.8 485.1 192.8 491.6 194.8 499.1 196.9 502.8 200.2 514 200.6 519 204.4 523.5 208.1 529 208.5 529.5 213.8 531 216.2 530.3 220 526.5 223.8 522.8 228.1 521 231.9 517.8 235.6 517.1 239.4 517.8 242.5 516 248.1 514.6 253.1 511.6 256.2 510.6 260 506.6 261.9 500.3 264.4 496.6 266.9 494.1 264.4 492.8 266.9 489.1 271.2 488.5 276.2 487.8 280 484.6 281.2 483.8 285 480.3 288.1 476.6 291.2 475.3 293.8 470.3 298.8 466.6 298.5 463.5 298.1 463.1 300.6 464.6 303.1 461 307.5 459.6 310 455.3 310 450.3 311.2 448.5 315 444.6 318.1 439.6 317.5 443.5 319.4 442.8 322.5 439.1 325 437.1 328.1 432.8 330 432.1 331.9 434.1 333.1 437.8 334.4 437.1 336.9 434.1 340 432.1 342.5 427.8 344.4 427.6 346.9 429.3 350 431 353.1 434.1 355 439.1 356 442.8 356.5 439.1 357.5 434.6 358.1 432.8 360 429.6 360 426.6 358.8 421.6 359 416.6 356.2 411.6 353.1 407.8 350 407.1 345 406 341.2 406.6 337.5 408.5 335.6 411 334.8 406.6 333.1 408.5 330 409.6 325 411 320 412.1 315 413.5 310 412.8 305 415.3 300.6 417.8 296.2 419.6 290 419.1 286.2 419.6 280 421.6 273.8 422.6 267.5 422.1 261.2 423.1 255 422.8 249.4 419.1 246.2 415.3 244.5 412.8 242.5 409.1 240 405.3 236.2 403.5 231.2 400.3 226.2 397.8 221.2 395.3 216.9 392.1 214.4 389.6 211.2 389.6 207.5 390.6 203.8 389.6 200.6 391.6 198.8 392.1 195 393.5 190.6 396.6 187.5 402.1 184.7 402.5 180 402 175.3 400.2 172 398.3 169.4 395.9 170.2 392.2 172 387.5 170.2 382.8 168.8 380 165.9 377 164.9 375.6 161.1 372.8 158 369.6 155.5 365.3 154.2 361.6 153 357.1 150.8 353.5 148.6 351.6 146.1 349.6 145Z M386.6 126.9 388.1 124.1 392.8 123.8 397 125.3 400.8 126.9 404 129.7 407.8 131.1 411.1 133 411.1 134.9 405.9 135.6 401.1 135.6 398.6 133.5 396.4 131.1 392.8 130 389 129.1Z M380.1 127.4 382 125.7 385.8 126 386 129.2 383.4 130.7 380.1 129.7Z M398.9 138 406.6 138 406.6 141.8 398.9 141.8Z M411.5 135.3 415.2 134.9 420.9 133.9 425.6 134.1 429.3 136.3 430.5 138.5 430.2 140.5 426.6 140.5 421.9 141 419.6 143 417.6 142.8 415.8 140.5 411.6 139.6 411.1 137.5Z M431.9 137.4 441 137.4 441 142 431.9 142Z M358.4 194.4 363.1 193.8 364.6 195.1 366.9 195.3 366.9 197.2 363.1 197.4 361.6 198.9 359.4 198.6 359.9 196.7 358.4 196.2Z M451 346.2 456.6 345.2 461 346 461.6 348.1 457.8 350.2 451 350.2Z M518.9 354 526 354 528.2 355.5 528.2 358.5 523.5 358.5 522 357 518.9 357Z" fill="none" stroke="#000" stroke-width="2.4" stroke-linejoin="round"/>
<circle cx="398.1" cy="294.4" r="1.9" fill="#000"/>
<circle cx="465.1" cy="324.1" r="1.9" fill="#000"/>
<circle cx="390.4" cy="155.6" r="2.8" fill="#000"/>
<circle cx="383.5" cy="142.4" r="2" fill="#000"/>
<circle cx="377.4" cy="143.5" r="2" fill="#000"/>
<circle cx="390.9" cy="136.3" r="2" fill="#000"/>
<circle cx="454.6" cy="154.4" r="1.6" fill="#000"/>
<circle cx="456.6" cy="154.4" r="1.6" fill="#000"/>
<circle cx="441.1" cy="316.9" r="1.7" fill="#000"/>
<circle cx="408.5" cy="333.8" r="1.6" fill="#000"/>
<circle cx="440.1" cy="356.8" r="1.7" fill="#000"/>
<circle cx="442.1" cy="356.6" r="1.6" fill="#000"/>
<circle cx="444.8" cy="139.6" r="1.9" fill="#000"/>
<circle cx="448.6" cy="141.3" r="1.9" fill="#000"/>
<circle cx="451.5" cy="147.5" r="1.9" fill="#000"/>
<circle cx="450.9" cy="153.6" r="1.9" fill="#000"/>
<circle cx="448.6" cy="157.5" r="1.8" fill="#000"/>
<circle cx="402.1" cy="124.1" r="1.8" fill="#000"/>
<circle cx="405.9" cy="124.6" r="1.8" fill="#000"/>
<circle cx="409.6" cy="125" r="1.8" fill="#000"/>
<circle cx="412.5" cy="126.9" r="1.8" fill="#000"/>
<circle cx="415.8" cy="127.4" r="1.8" fill="#000"/>
<circle cx="419" cy="128.8" r="1.8" fill="#000"/>
<circle cx="413.4" cy="131.1" r="1.8" fill="#000"/>
<circle cx="407.2" cy="127.8" r="2" fill="#000"/>
<circle cx="414.1" cy="129" r="1.6" fill="#000"/>
<path d="M405.9 124.6 409.6 125" fill="none" stroke="#000" stroke-width="2.6" stroke-linecap="round" stroke-linejoin="round"/>
<path d="M412.5 126.9 415.8 127.4 419 128.8" fill="none" stroke="#000" stroke-width="2.6" stroke-linecap="round" stroke-linejoin="round"/>
<path d="M401.1 123.8 403.1 124.6" fill="none" stroke="#000" stroke-width="2.4" stroke-linecap="round" stroke-linejoin="round"/>
<path d="M444.4 139.4 448.1 140.8 450 144.1 451.4 147.3 451.9 150.2 450.9 153.4 449.5 156.7 448.1 157.7" fill="none" stroke="#000" stroke-width="2.9" stroke-linecap="round" stroke-linejoin="round"/>
<use href="#trm" x="413.8" y="162.5"/><use href="#trm" x="418.9" y="164.8"/><use href="#trm" x="421.7" y="167.6"/><use href="#trm" x="422.4" y="168.7"/><use href="#trm" x="417.5" y="172.8"/><use href="#trm" x="407.2" y="173.8"/><use href="#trm" x="407.4" y="176.3"/><use href="#trm" x="409.8" y="180.8"/><use href="#trm" x="412" y="181"/><use href="#trm" x="404.2" y="187.3"/><use href="#trm" x="405.4" y="188.5"/><use href="#trm" x="400.2" y="193.9"/><use href="#trm" x="433.9" y="163.4"/><use href="#trm" x="435.3" y="159.2"/><use href="#trm" x="443.9" y="164.5"/><use href="#trm" x="400.2" y="194.1"/><use href="#trm" x="398.8" y="197.8"/><use href="#trm" x="397.3" y="201.6"/><use href="#trm" x="395.9" y="205.3"/><use href="#trm" x="396.9" y="210.5"/><use href="#trm" x="401" y="212.3"/><use href="#trm" x="402.2" y="213.3"/><use href="#trm" x="397.8" y="215.1"/><use href="#trm" x="406.7" y="225"/><use href="#trm" x="408.1" y="228.7"/><use href="#trm" x="413.3" y="233"/><use href="#trm" x="417.5" y="233"/><use href="#trm" x="422.2" y="234.3"/><use href="#trm" x="407.2" y="228.1"/><use href="#trm" x="413.3" y="232.8"/><use href="#trm" x="422.4" y="234.7"/><use href="#trm" x="430.4" y="241.7"/><use href="#trm" x="431.1" y="244.1"/><use href="#trm" x="440.5" y="247.8"/>
<use href="#crm" x="421.9" y="168"/><use href="#crm" x="407.2" y="175.2"/><use href="#crm" x="411" y="180.8"/><use href="#crm" x="404.9" y="187.7"/><use href="#crm" x="400.3" y="193.9"/><use href="#crm" x="399" y="197.2"/><use href="#crm" x="397.5" y="201"/><use href="#crm" x="396.2" y="205.2"/><use href="#crm" x="401.7" y="212.7"/><use href="#crm" x="406.8" y="225"/><use href="#crm" x="408.2" y="228.7"/><use href="#crm" x="430.8" y="242.7"/><use href="#crm" x="418.9" y="164.7"/><use href="#crm" x="413.4" y="233"/><use href="#crm" x="399.5" y="195.5"/><use href="#crm" x="398" y="199.4"/><use href="#crm" x="396.6" y="203"/><use href="#crm" x="421.2" y="167.9"/><use href="#crm" x="407.3" y="174.8"/>
</g>
<rect x="351.5" y="58.5" width="180" height="369" fill="none" stroke="#000" stroke-width="1.111" stroke-linejoin="miter"/>
<text class="t10" x="528.82" y="402.49" text-anchor="end">AUC: 0.994</text>
<text class="t12" transform="translate(440.73 48.87) scale(1 1.11)" text-anchor="middle">microryzomys minutus</text>
<rect x="441.5" y="65.5" width="83" height="46" rx="2.778" ry="2.778" fill="#fff" fill-opacity="0.8" stroke="#ccc" stroke-opacity="0.8" stroke-width="1.389"/>
<use href="#tri" x="461.5" y="78"/>
<use href="#crs" x="461.5" y="98.5"/>
<text class="t10" x="486.08" y="81">train</text>
<text class="t10" x="486.08" y="102">test</text>
<rect x="542.5" y="411.5" width="19" height="16" fill="#fff2eb"/>
<rect x="542.5" y="396.1" width="19" height="16" fill="#feeae1"/>
<rect x="542.5" y="380.7" width="19" height="16" fill="#fee4d8"/>
<rect x="542.5" y="365.3" width="19" height="16" fill="#fedaca"/>
<rect x="542.5" y="349.9" width="19" height="16" fill="#fdcdb9"/>
<rect x="542.5" y="334.5" width="19" height="16" fill="#fcc2aa"/>
<rect x="542.5" y="319.1" width="19" height="16" fill="#fcb499"/>
<rect x="542.5" y="303.7" width="19" height="16" fill="#fca689"/>
<rect x="542.5" y="288.3" width="19" height="16" fill="#fc997a"/>
<rect x="542.5" y="272.9" width="19" height="16" fill="#fc8b6b"/>
<rect x="542.5" y="257.5" width="19" height="16" fill="#fb7d5d"/>
<rect x="542.5" y="242.1" width="19" height="16" fill="#fb7151"/>
<rect x="542.5" y="226.7" width="19" height="16" fill="#f96245"/>
<rect x="542.5" y="211.3" width="19" height="16" fill="#f5523a"/>
<rect x="542.5" y="195.9" width="19" height="16" fill="#f14331"/>
<rect x="542.5" y="180.5" width="19" height="16" fill="#e93529"/>
<rect x="542.5" y="165.1" width="19" height="16" fill="#dc2924"/>
<rect x="542.5" y="149.7" width="19" height="16" fill="#d11e1f"/>
<rect x="542.5" y="134.3" width="19" height="16" fill="#c4161c"/>
<rect x="542.5" y="118.9" width="19" height="16" fill="#b71319"/>
<rect x="542.5" y="103.5" width="19" height="16" fill="#ab1016"/>
<rect x="542.5" y="88.1" width="19" height="16" fill="#9a0c14"/>
<rect x="542.5" y="72.7" width="19" height="16" fill="#840711"/>
<rect x="542.5" y="57.3" width="19" height="16" fill="#71020e"/>
<rect x="542.5" y="58.5" width="19" height="369" fill="none" stroke="#000" stroke-width="1.111"/>
<path d="M561.5 412.5 h5.3" stroke="#000" stroke-width="1.111" fill="none"/><text class="t10" x="570.6" y="417">-0.16</text>
<path d="M561.5 366.5 h5.3" stroke="#000" stroke-width="1.111" fill="none"/><text class="t10" x="570.6" y="371">-0.13</text>
<path d="M561.5 319.5 h5.3" stroke="#000" stroke-width="1.111" fill="none"/><text class="t10" x="570.6" y="325">-0.10</text>
<path d="M561.5 273.5 h5.3" stroke="#000" stroke-width="1.111" fill="none"/><text class="t10" x="570.6" y="279">-0.08</text>
<path d="M561.5 227.5 h5.3" stroke="#000" stroke-width="1.111" fill="none"/><text class="t10" x="570.6" y="233">-0.05</text>
<path d="M561.5 181.5 h5.3" stroke="#000" stroke-width="1.111" fill="none"/><text class="t10" x="570.6" y="186">-0.03</text>
<path d="M561.5 135.5 h5.3" stroke="#000" stroke-width="1.111" fill="none"/><text class="t10" x="570.6" y="140">-0.00</text>
<path d="M561.5 88.5 h5.3" stroke="#000" stroke-width="1.111" fill="none"/><text class="t10" x="570.6" y="94">0.02</text>
</g>
</svg>
</body>
</html>
